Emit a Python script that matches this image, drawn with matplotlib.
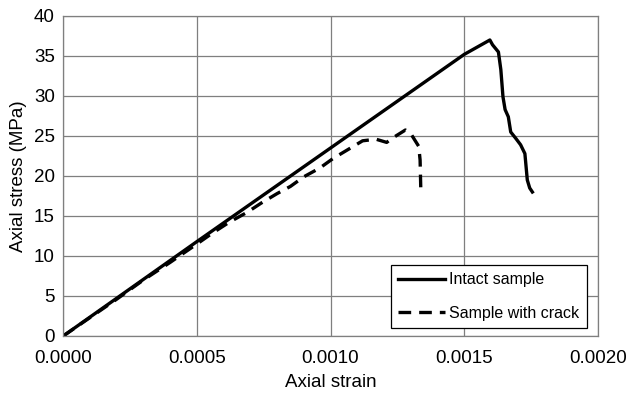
import matplotlib
matplotlib.use("Agg")
import matplotlib.pyplot as plt

plt.rcParams['font.family'] = ['Liberation Sans', 'DejaVu Sans']

# Intact sample: strain and stress (MPa)
intact_strain = [0.0, 0.0005, 0.0010, 0.0015, 0.001596, 0.001606, 0.001628,
                 0.001637, 0.001645, 0.001653, 0.001665, 0.001674, 0.001693,
                 0.001711, 0.001727, 0.001736, 0.001745, 0.001755]
intact_stress = [0.0, 11.8, 23.5, 35.2, 37.0, 36.4, 35.5,
                 33.3, 29.9, 28.3, 27.4, 25.5, 24.7,
                 23.9, 22.8, 19.5, 18.5, 18.0]

# Sample with crack: strain and stress (MPa)
crack_strain = [0.0, 0.0002, 0.0003, 0.0004, 0.0005, 0.00056, 0.00062, 0.00069,
                0.00074, 0.00080, 0.00085, 0.00090, 0.00096, 0.00101, 0.00106,
                0.00112, 0.00117, 0.00121, 0.00123, 0.00128, 0.00130, 0.00133,
                0.001335, 0.001338]
crack_stress = [0.0, 4.6, 7.0, 9.2, 11.5, 12.9, 14.2, 15.5,
                16.6, 17.8, 18.7, 19.9, 21.0, 22.2, 23.2,
                24.4, 24.6, 24.2, 24.7, 25.75, 25.3, 23.7,
                22.0, 17.8]

x_ticks = [0.0, 0.0005, 0.0010, 0.0015, 0.0020]
y_ticks = [0, 5, 10, 15, 20, 25, 30, 35, 40]

fig = plt.figure(figsize=(6.32, 4.0), dpi=100)
ax = fig.add_axes([0.100, 0.160, 0.846, 0.800])

ax.plot(intact_strain, intact_stress, color='black', linewidth=2.4,
        linestyle='-', label='Intact sample', solid_joinstyle='round')
ax.plot(crack_strain, crack_stress, color='black', linewidth=2.4,
        linestyle=(0, (3.8, 2.4)), label='Sample with crack')

ax.set_xlim(0, 0.002)
ax.set_ylim(0, 40)
ax.set_xticks(x_ticks)
ax.set_xticklabels([f"{v:.4f}" for v in x_ticks])
ax.set_yticks(y_ticks)
ax.set_yticklabels([str(v) for v in y_ticks])
ax.tick_params(axis='x', length=0, labelsize=13.5, pad=10)
ax.tick_params(axis='y', length=0, labelsize=13.5, pad=6)

ax.grid(True, color='#7f7f7f', linewidth=0.9)
ax.set_axisbelow(True)
for s in ax.spines.values():
    s.set_color('#7f7f7f')
    s.set_linewidth(0.9)

ax.set_xlabel('Axial strain', fontsize=13.5, labelpad=5)
ax.set_ylabel('Axial stress (MPa)', fontsize=13.5, labelpad=5)

leg = ax.legend(loc='lower right', bbox_to_anchor=(0.979, 0.025),
                fontsize=11.5, frameon=True, fancybox=False,
                edgecolor='black', framealpha=1, handlelength=2.9,
                borderpad=0.45, labelspacing=1.15, handletextpad=0.3,
                borderaxespad=0)
leg.get_frame().set_linewidth(0.9)

fig.savefig('out.png', dpi=100)
